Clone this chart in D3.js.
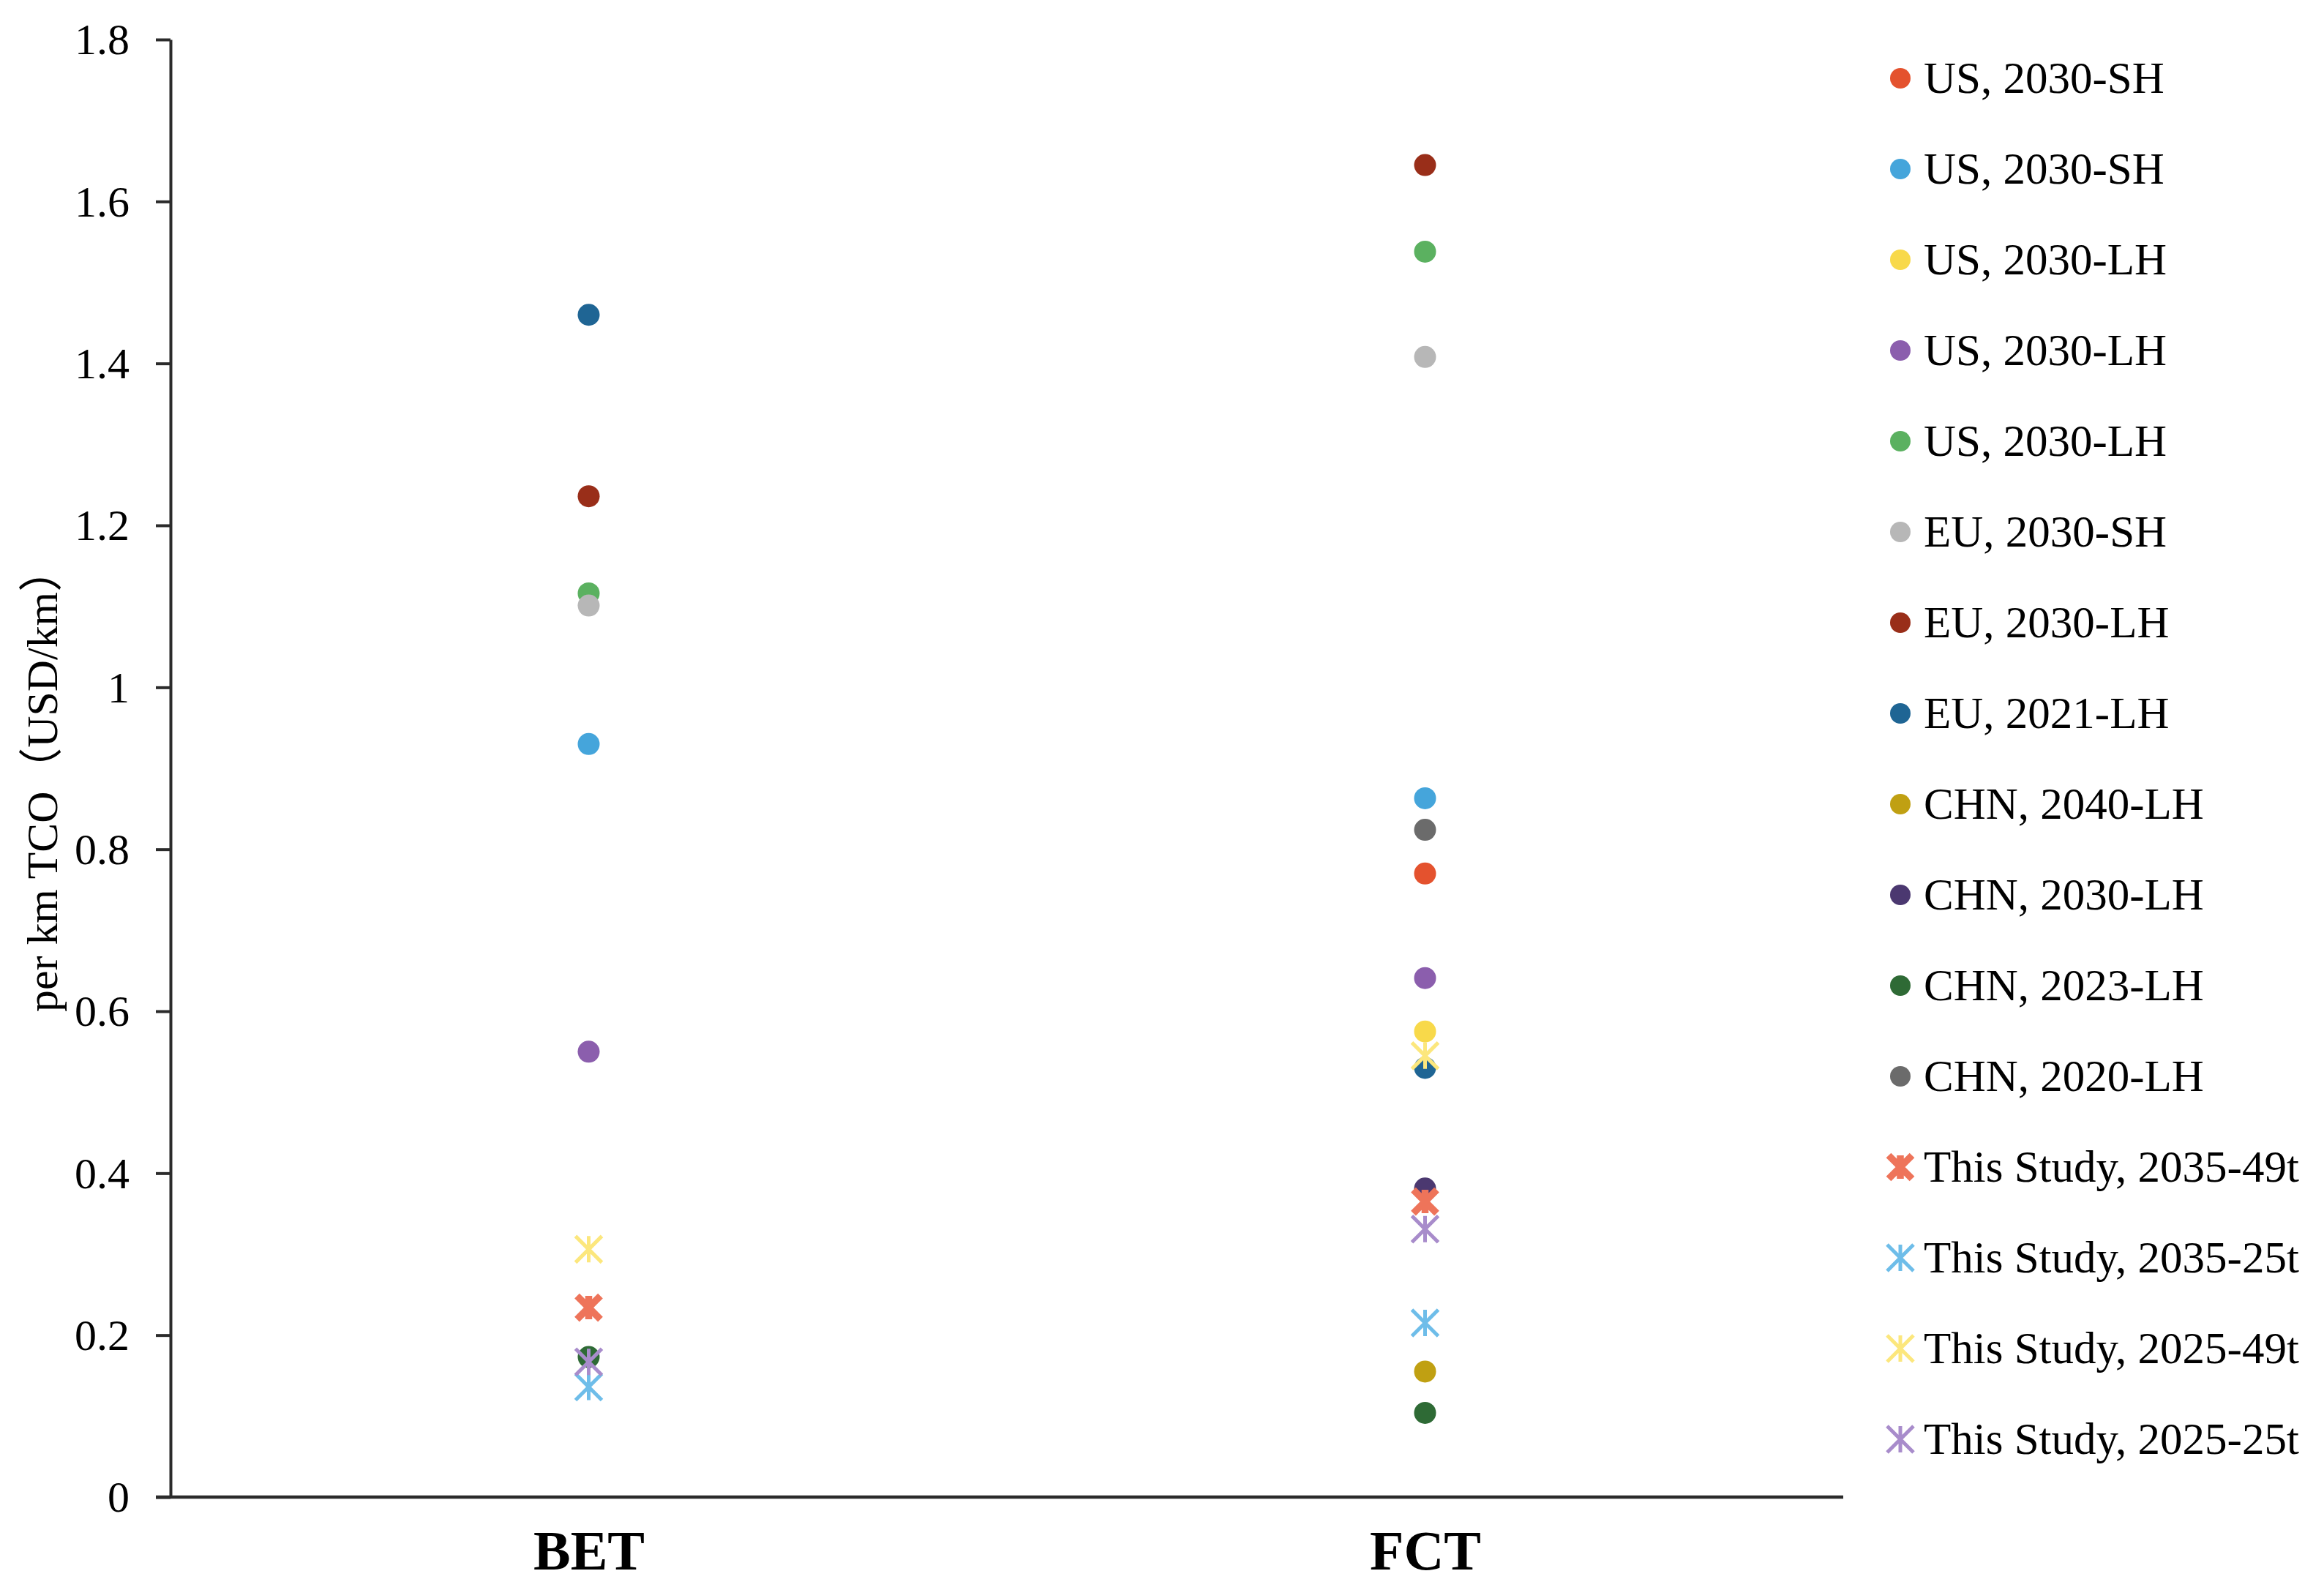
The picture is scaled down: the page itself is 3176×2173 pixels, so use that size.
<!DOCTYPE html>
<html>
<head>
<meta charset="utf-8">
<script src="https://cdn.jsdelivr.net/npm/d3@7"></script>
<style>
  html, body { margin: 0; padding: 0; background: #ffffff; }
  svg { display: block; }
  text { font-family: "Liberation Serif", "Times New Roman", "Noto Sans CJK SC", serif; fill: #000; }
</style>
</head>
<body>
<script>
// ---------------- DATA ----------------
const categories = ["BET", "FCT"];

const seriesNames = [
  "US, 2030-SH", "US, 2030-SH", "US, 2030-LH", "US, 2030-LH", "US, 2030-LH",
  "EU, 2030-SH", "EU, 2030-LH", "EU, 2021-LH",
  "CHN, 2040-LH", "CHN, 2030-LH", "CHN, 2023-LH", "CHN, 2020-LH",
  "This Study, 2035-49t", "This Study, 2035-25t", "This Study, 2025-49t", "This Study, 2025-25t"
];

const seriesColors = [
  "#E4522E", "#45A5DB", "#F8D94A", "#8B5EAD", "#5BB160",
  "#B7B7B7", "#992E19", "#1F6594",
  "#C0A012", "#4B3870", "#2E6A35", "#6B6B6B",
  "#EE745A", "#6EBDE9", "#FCE77D", "#A88CCB"
];

const seriesMarkers = [
  "dot", "dot", "dot", "dot", "dot",
  "dot", "dot", "dot",
  "dot", "dot", "dot", "dot",
  "boldstar", "star", "star", "star"
];

// values per category (null = not present)
const betValues = [null, 0.930, null, 0.550, 1.116, 1.101, 1.236, 1.460,
                   null, null, 0.173, null,
                   0.234, 0.136, 0.306, 0.167];
const fctValues = [0.770, 0.863, 0.575, 0.641, 1.538, 1.408, 1.645, 0.530,
                   0.155, 0.381, 0.104, 0.824,
                   0.365, 0.215, 0.545, 0.331];

const yTicks = [0, 0.2, 0.4, 0.6, 0.8, 1, 1.2, 1.4, 1.6, 1.8];
const yTitle = "per km TCO（USD/km）";

// ---------------- LAYOUT ----------------
const W = 3176, H = 2173;
const plot = { left: 233, right: 2519, top: 54, bottom: 2046 };

const svg = d3.select("body").append("svg")
  .attr("width", W).attr("height", H)
  .attr("viewBox", `0 0 ${W} ${H}`);

svg.append("rect").attr("width", W).attr("height", H).attr("fill", "#fff");

const x = d3.scalePoint().domain(categories).range([plot.left, plot.right]).padding(0.5);
const y = d3.scaleLinear().domain([0, 1.8]).range([plot.bottom, plot.top]);

// ---------------- AXES ----------------
const yAxis = svg.append("g")
  .attr("transform", `translate(${plot.left},0)`)
  .call(d3.axisLeft(y).tickValues(yTicks).tickSize(20).tickSizeOuter(0).tickPadding(36)
    .tickFormat(d3.format("~g")));
yAxis.selectAll("path.domain").attr("stroke", "#2b2b2b").attr("stroke-width", 4);
yAxis.selectAll(".tick line").attr("stroke", "#2b2b2b").attr("stroke-width", 4);
yAxis.selectAll(".tick text")
  .attr("font-size", 60).attr("font-family", "Liberation Serif")
  .attr("dy", "0.33em").attr("fill", "#000");

const xAxis = svg.append("g")
  .attr("transform", `translate(0,${plot.bottom})`)
  .call(d3.axisBottom(x).tickSize(0).tickSizeOuter(0).tickPadding(0));
xAxis.select("path.domain").attr("stroke", "#2b2b2b").attr("stroke-width", 4.5)
  .attr("d", `M${plot.left - 20},0H${plot.right}`);
xAxis.selectAll(".tick text")
  .attr("y", 99).attr("dy", 0)
  .attr("font-size", 76).attr("font-weight", "bold")
  .attr("font-family", "Liberation Serif").attr("fill", "#000");

// Y title
svg.append("text")
  .attr("transform", `translate(58,1066) rotate(-90)`)
  .attr("text-anchor", "middle")
  .attr("dy", "0.33em")
  .attr("font-size", 60)
  .attr("textLength", 634)
  .attr("lengthAdjust", "spacingAndGlyphs")
  .text(yTitle);

// ---------------- MARKERS ----------------
function starPath(s) {
  // asterisk: X plus vertical bar
  return `M${-s},${-s}L${s},${s}M${-s},${s}L${s},${-s}M0,${-s}L0,${s}`;
}

function drawMarker(g, kind, color, cx, cy, r) {
  if (kind === "dot") {
    g.append("circle").attr("cx", cx).attr("cy", cy).attr("r", r).attr("fill", color);
  } else if (kind === "boldstar") {
    g.append("path").attr("transform", `translate(${cx},${cy})`)
      .attr("d", starPath(16)).attr("stroke", color).attr("stroke-width", 9.5)
      .attr("fill", "none").attr("stroke-linecap", "butt");
  } else {
    g.append("path").attr("transform", `translate(${cx},${cy})`)
      .attr("d", starPath(18)).attr("stroke", color).attr("stroke-width", 5)
      .attr("fill", "none").attr("stroke-linecap", "butt");
  }
}

const points = svg.append("g");
seriesNames.forEach((name, i) => {
  const vals = [betValues[i], fctValues[i]];
  vals.forEach((v, ci) => {
    if (v === null || v === undefined) return;
    drawMarker(points, seriesMarkers[i], seriesColors[i], x(categories[ci]), y(v), 15);
  });
});

// ---------------- LEGEND ----------------
const legend = svg.append("g");
const legTop = 107, legStep = 124, legMarkerX = 2597, legTextX = 2629;
seriesNames.forEach((name, i) => {
  const cy = legTop + i * legStep;
  drawMarker(legend, seriesMarkers[i], seriesColors[i], legMarkerX, cy, 14);
  legend.append("text")
    .attr("x", legTextX).attr("y", cy).attr("dy", "0.33em")
    .attr("font-size", 61)
    .text(name);
});
</script>
</body>
</html>
